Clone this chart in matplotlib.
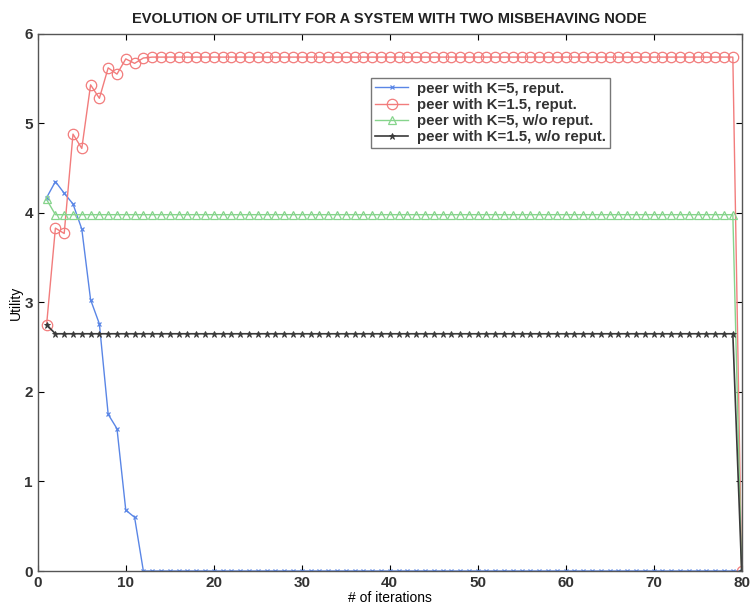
import numpy as np
import matplotlib
matplotlib.use("Agg")
import matplotlib.pyplot as plt

plt.rcParams['font.family'] = ['Liberation Sans', 'DejaVu Sans']

iters = np.arange(1, 81)

# peer with K=5, reput.
k5_rep_head = [4.17, 4.35, 4.22, 4.10, 3.82, 3.03, 2.76, 1.75, 1.59, 0.68, 0.60, 0.0]
k5_rep = k5_rep_head + [0.0] * (80 - len(k5_rep_head))

# peer with K=1.5, reput.
k15_rep_head = [2.75, 3.83, 3.77, 4.88, 4.72, 5.43, 5.28, 5.62, 5.55, 5.72, 5.67, 5.73]
k15_rep = k15_rep_head + [5.74] * (79 - len(k15_rep_head)) + [0.0]

# peer with K=5, w/o reput.
k5_norep = [4.15] + [3.98] * 78 + [0.0]

# peer with K=1.5, w/o reput.
k15_norep = [2.75] + [2.65] * 78 + [0.0]

labels = ['peer with K=5, reput.', 'peer with K=1.5, reput.',
          'peer with K=5, w/o reput.', 'peer with K=1.5, w/o reput.']

fig = plt.figure(figsize=(7.56, 6.15), dpi=100)
ax = fig.add_axes([0.050, 0.0715, 0.931, 0.8735])

ax.plot(iters, k5_rep, color='#5a86e6', lw=1.0, marker='x', ms=3.5, mew=0.9, label=labels[0])
ax.plot(iters, k15_rep, color='#f27c7c', lw=1.0, marker='o', ms=7.5, mfc='none', mew=0.9, label=labels[1])
ax.plot(iters, k5_norep, color='#86d48c', lw=1.0, marker='^', ms=5.5, mfc='none', mew=0.9, label=labels[2])
ax.plot(iters, k15_norep, color='#3a3a3a', lw=1.2, marker='*', ms=5, mew=0.6, label=labels[3])

ax.set_xlim(0, 80)
ax.set_ylim(0, 6)
ax.set_xticks(np.arange(0, 81, 10))
ax.set_yticks(np.arange(0, 7, 1))
ax.tick_params(direction='in', top=True, right=True, labelsize=11, length=4)
for lab in ax.get_xticklabels() + ax.get_yticklabels():
    lab.set_fontweight('bold')
    lab.set_color('#333333')
for s in ax.spines.values():
    s.set_color('#555555')
    s.set_linewidth(1.0)

ax.set_xlabel('# of iterations', fontsize=10, labelpad=1)
ax.set_ylabel('Utility', fontsize=10, labelpad=1)
ax.set_title('EVOLUTION OF UTILITY FOR A SYSTEM WITH TWO MISBEHAVING NODE',
             fontsize=10.5, fontweight='bold', color='#222222', pad=8)

leg = ax.legend(loc='upper left', bbox_to_anchor=(0.474, 0.918), fontsize=10.8,
                frameon=True, fancybox=False, edgecolor='#555555',
                borderpad=0.25, labelspacing=0.15, handlelength=2.2,
                handletextpad=0.6, borderaxespad=0)
leg.get_frame().set_linewidth(1.0)
for t in leg.get_texts():
    t.set_fontweight('bold')
    t.set_color('#333333')

fig.savefig('out.png', dpi=100)
